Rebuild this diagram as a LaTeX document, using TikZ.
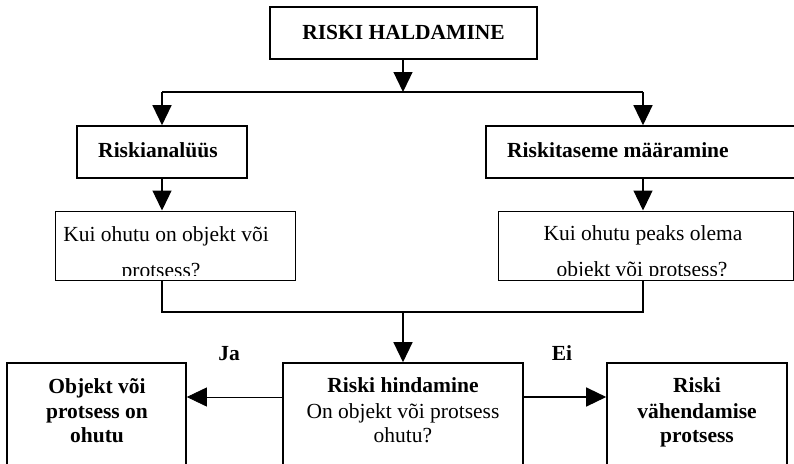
\documentclass[tikz,border=0pt]{standalone}
\usepackage{fontspec}
\setmainfont{Liberation Serif}
\usetikzlibrary{arrows.meta}
\begin{document}
\begin{tikzpicture}[x=1pt,y=-1pt,
  every node/.style={font=\fontsize{21.5pt}{25pt}\selectfont},
  bbox/.style={draw, line width=1.6pt, inner sep=0pt, rectangle},
  qbox/.style={draw, line width=1pt, inner sep=0pt, rectangle},
  ln/.style={anchor=base, inner sep=0pt},
  bln/.style={anchor=base, inner sep=0pt, font=\fontsize{21.5pt}{25pt}\selectfont\bfseries},
  conn/.style={line width=1.3pt},
  arr/.style={line width=1.3pt, -{Triangle[length=20pt,width=19pt]}},
  thinarr/.style={line width=0.8pt, -{Triangle[length=20pt,width=19pt]}}]
\clip (0,0) rectangle (794,463);
% boxes
\node[bbox, minimum width=267pt, minimum height=52pt] (title) at (403.5,33) {};
\node[bbox, minimum width=170pt, minimum height=52pt] (ana) at (162,152) {};
\node[bbox, minimum width=314pt, minimum height=52pt] (tase) at (643,152) {};
\node[qbox, minimum width=240pt, minimum height=69pt] (kui1) at (175,245.5) {};
\node[qbox, minimum width=295pt, minimum height=69pt] (kui2) at (645.5,245.5) {};
\node[bbox, minimum width=179pt, minimum height=107pt] (ok) at (96.5,416.5) {};
\node[bbox, minimum width=240pt, minimum height=107pt] (hind) at (403,416.5) {};
\node[bbox, minimum width=180pt, minimum height=107pt] (vah) at (697,416.5) {};
% texts
\node[bln] (titletxt) at (403.5,39) {RISKI HALDAMINE};
\node[bln] (anatxt) at (158,157) {Riskianalüüs};
\node[bln, anchor=base west] (tasetxt) at (507,157) {Riskitaseme määramine};
\begin{scope}
  \clip (kui1.north west) rectangle ([yshift=5pt]kui1.south east);
  \node[ln] (kui1a) at (166,241) {Kui ohutu on objekt või};
  \node[ln] (kui1b) at (161,277) {protsess?};
\end{scope}
\begin{scope}
  \clip (kui2.north west) rectangle ([yshift=5pt]kui2.south east);
  \node[ln] (kui2a) at (643,240) {Kui ohutu peaks olema};
  \node[ln] (kui2b) at (642,276) {objekt või protsess?};
\end{scope}
\node[bln] (oka) at (97,393) {Objekt või};
\node[bln] (okb) at (97,418) {protsess on};
\node[bln] (okc) at (97,442) {ohutu};
\node[bln] (hinda) at (403,392) {Riski hindamine};
\node[ln] (hindb) at (403,418) {On objekt või protsess};
\node[ln] (hindc) at (403,442) {ohutu?};
\node[bln] (vaha) at (697,392) {Riski};
\node[bln] (vahb) at (697,418) {vähendamise};
\node[bln] (vahc) at (697,442) {protsess};
\node[bln] (ja) at (229,360) {Ja};
\node[bln] (ei) at (562,360) {Ei};
% connectors
\coordinate (split) at (403,92);
\coordinate (merge) at (403,312);
\coordinate (yn) at (0,397);
\draw[arr] (title.south -| split) -- (split);
\draw[conn] (ana.north |- split) -- (tase.north |- split);
\draw[arr] (ana.north |- split) -- (ana.north);
\draw[arr] (tase.north |- split) -- (tase.north);
\draw[arr] (ana.south) -- (ana.south |- kui1.north);
\draw[arr] (tase.south) -- (tase.south |- kui2.north);
\draw[conn] (ana.south |- kui1.south) -- (ana.south |- merge) -- (tase.south |- merge) -- (tase.south |- kui2.south);
\draw[arr] (merge) -- (merge |- hind.north);
\draw[thinarr] (hind.west |- yn) -- (ok.east |- yn);
\draw[arr] (hind.east |- yn) -- (vah.west |- yn);
\end{tikzpicture}
\end{document}
